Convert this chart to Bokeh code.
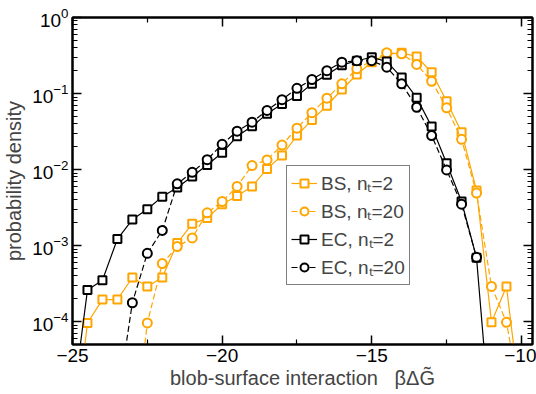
from bokeh.plotting import figure
from bokeh.models import (Range1d, FixedTicker, LinearAxis, LogAxis, Legend, LegendItem,
                          ColumnDataSource, CustomJSTickFormatter)
from bokeh.embed import file_html
from bokeh.resources import INLINE

# ---------------- data ----------------
x_ec2 = [-25, -24.5, -24, -23.5, -23, -22.5, -22, -21.5, -21, -20.5, -20, -19.5, -19, -18.5,
         -18, -17.5, -17, -16.5, -16, -15.5, -15, -14.5, -14, -13.5, -13, -12.5, -12, -11.5, -11]
y_ec2 = [8e-6, 2.6e-4, 3.5e-4, 1.22e-3, 2.2e-3, 3.0e-3, 4.4e-3, 5.8e-3, 8.1e-3, 1.15e-2,
         1.66e-2, 2.74e-2, 3.7e-2, 5.4e-2, 7.3e-2, 9.3e-2, 0.134, 0.176, 0.236, 0.27, 0.30,
         0.263, 0.162, 0.0877, 0.0368, 0.0121, 3.8e-3, 6.9e-4, 3e-6]

x_ec20 = [-23.5, -23, -22.5, -22, -21.5, -21, -20.5, -20, -19.5, -19, -18.5, -18, -17.5, -17,
          -16.5, -16, -15.5, -15, -14.5, -14, -13.5, -13, -12.5, -12, -11.5]
y_ec20 = [8.5e-6, 1.77e-4, 7.9e-4, 1.58e-3, 6.5e-3, 9.2e-3, 1.35e-2, 2.15e-2, 3.2e-2, 4.2e-2,
          6.0e-2, 8.3e-2, 0.117, 0.153, 0.20, 0.258, 0.27, 0.27, 0.222, 0.134, 0.066, 0.028,
          9.9e-3, 3.5e-3, 7.0e-4]

x_bs2 = [-25, -24.5, -24, -23.5, -23, -22.5, -22, -21.5, -21, -20.5, -20, -19.5, -19, -18.5,
         -18, -17.5, -17, -16.5, -16, -15.5, -15, -14.5, -14, -13.5, -13, -12.5, -12, -11.5,
         -11, -10.5, -10]
y_bs2 = [2e-6, 9.6e-5, 1.95e-4, 1.95e-4, 3.8e-4, 2.9e-4, 3.8e-4, 1.08e-3, 1.93e-3, 2.3e-3,
         3.5e-3, 4.5e-3, 6.0e-3, 1.02e-2, 1.53e-2, 2.8e-2, 4.5e-2, 6.9e-2, 0.113, 0.178, 0.258,
         0.33, 0.343, 0.307, 0.19, 0.079, 0.031, 5.3e-3, 9.8e-5, 2.9e-4, 7e-6]

x_bs20 = [-23, -22.5, -22, -21.5, -21, -20.5, -20, -19.5, -19, -18.5, -18, -17.5, -17, -16.5,
          -16, -15.5, -15, -14.5, -14, -13.5, -13, -12.5, -12, -11.5, -11, -10.5, -10]
y_bs20 = [2e-6, 9.6e-5, 5.8e-4, 9.7e-4, 1.26e-3, 2.7e-3, 3.8e-3, 6.0e-3, 1.13e-2, 1.34e-2,
          2.1e-2, 3.5e-2, 5.6e-2, 8.7e-2, 0.134, 0.211, 0.27, 0.343, 0.333, 0.241, 0.145,
          0.065, 0.025, 4.9e-3, 2.9e-4, 9.8e-5, 8e-6]

labels = ["BS, n\u209c=2", "BS, n\u209c=20", "EC, n\u209c=2", "EC, n\u209c=20"]
x_ticks = [-25, -20, -15, -10]
x_minor = [-22.5, -17.5, -12.5]
y_ticks = [1e-4, 1e-3, 1e-2, 1e-1, 1e0]

ORANGE = "#FFA500"
FONT = "Liberation Sans"

p = figure(width=536, height=394, output_backend="svg", toolbar_location=None,
           x_range=Range1d(-25, -9.63), y_range=Range1d(5e-5, 1.0), y_axis_type="log",
           min_border_left=70, min_border_right=4, min_border_top=17, min_border_bottom=50)
p.xgrid.visible = False
p.ygrid.visible = False
p.outline_line_color = "black"
p.outline_line_width = 2
p.background_fill_color = "white"
p.border_fill_color = "white"

y_minor = [m * 10.0 ** e for e in range(-5, 0) for m in range(2, 10)]
xt = FixedTicker(ticks=x_ticks, minor_ticks=x_minor)
yt = FixedTicker(ticks=y_ticks, minor_ticks=y_minor)


def style(ax, labels_on=True):
    ax.axis_line_width = 2
    ax.axis_line_color = "black"
    ax.major_tick_in = 9
    ax.major_tick_out = 0
    ax.minor_tick_in = 5
    ax.minor_tick_out = 0
    ax.major_tick_line_width = 1.5
    ax.minor_tick_line_width = 1.2
    ax.major_label_text_font = FONT
    ax.major_label_text_color = "black"
    ax.major_label_text_font_size = "19px"
    if labels_on:
        ax.major_label_standoff = 4
    else:
        ax.formatter = CustomJSTickFormatter(code="return ''")
        ax.major_label_standoff = 0


xa = p.xaxis[0]
xa.ticker = xt
style(xa)
xa.axis_label = "blob-surface interaction \u00a0\u00a0\u03b2\u0394G\u0303"
xa.axis_label_text_font = FONT
xa.axis_label_text_font_size = "20px"
xa.axis_label_text_font_style = "normal"
xa.axis_label_standoff = 2

ya = p.yaxis[0]
ya.ticker = yt
style(ya)
ya.axis_label = "probability density"
ya.axis_label_text_font = FONT
ya.axis_label_text_font_size = "20px"
ya.axis_label_text_font_style = "normal"
ya.axis_label_standoff = 4

top = LinearAxis(ticker=xt)
style(top, False)
p.add_layout(top, "above")
right = LogAxis(ticker=yt)
style(right, False)
p.add_layout(right, "right")

series = [
    (x_bs2, y_bs2, ORANGE, "solid", "square", 8),
    (x_bs20, y_bs20, ORANGE, "6 3", "circle", 9),
    (x_ec2, y_ec2, "black", "solid", "square", 8),
    (x_ec20, y_ec20, "black", "6 3", "circle", 9),
]
items = []
for (xs, ys, col, dash, mk, sz), lab in zip(series, labels):
    src = ColumnDataSource(dict(x=xs, y=ys))
    ln = p.line("x", "y", source=src, line_color=col, line_width=1.2, line_dash=dash)
    sc = p.scatter("x", "y", source=src, marker=mk, size=sz, line_color=col, line_width=2,
                   fill_color="white")
    items.append(LegendItem(label=lab, renderers=[ln, sc]))

leg = Legend(items=items, location=(214, 59), orientation="vertical")
leg.label_text_font = FONT
leg.label_text_font_size = "19px"
leg.label_height = 20
leg.glyph_height = 20
leg.glyph_width = 26
leg.spacing = 2
leg.padding = 4
leg.margin = 0
leg.label_standoff = 4
leg.border_line_color = "black"
leg.border_line_width = 1.5
leg.background_fill_color = "white"
leg.background_fill_alpha = 1.0
p.add_layout(leg)

open("out.html", "w").write(file_html(p, INLINE))
